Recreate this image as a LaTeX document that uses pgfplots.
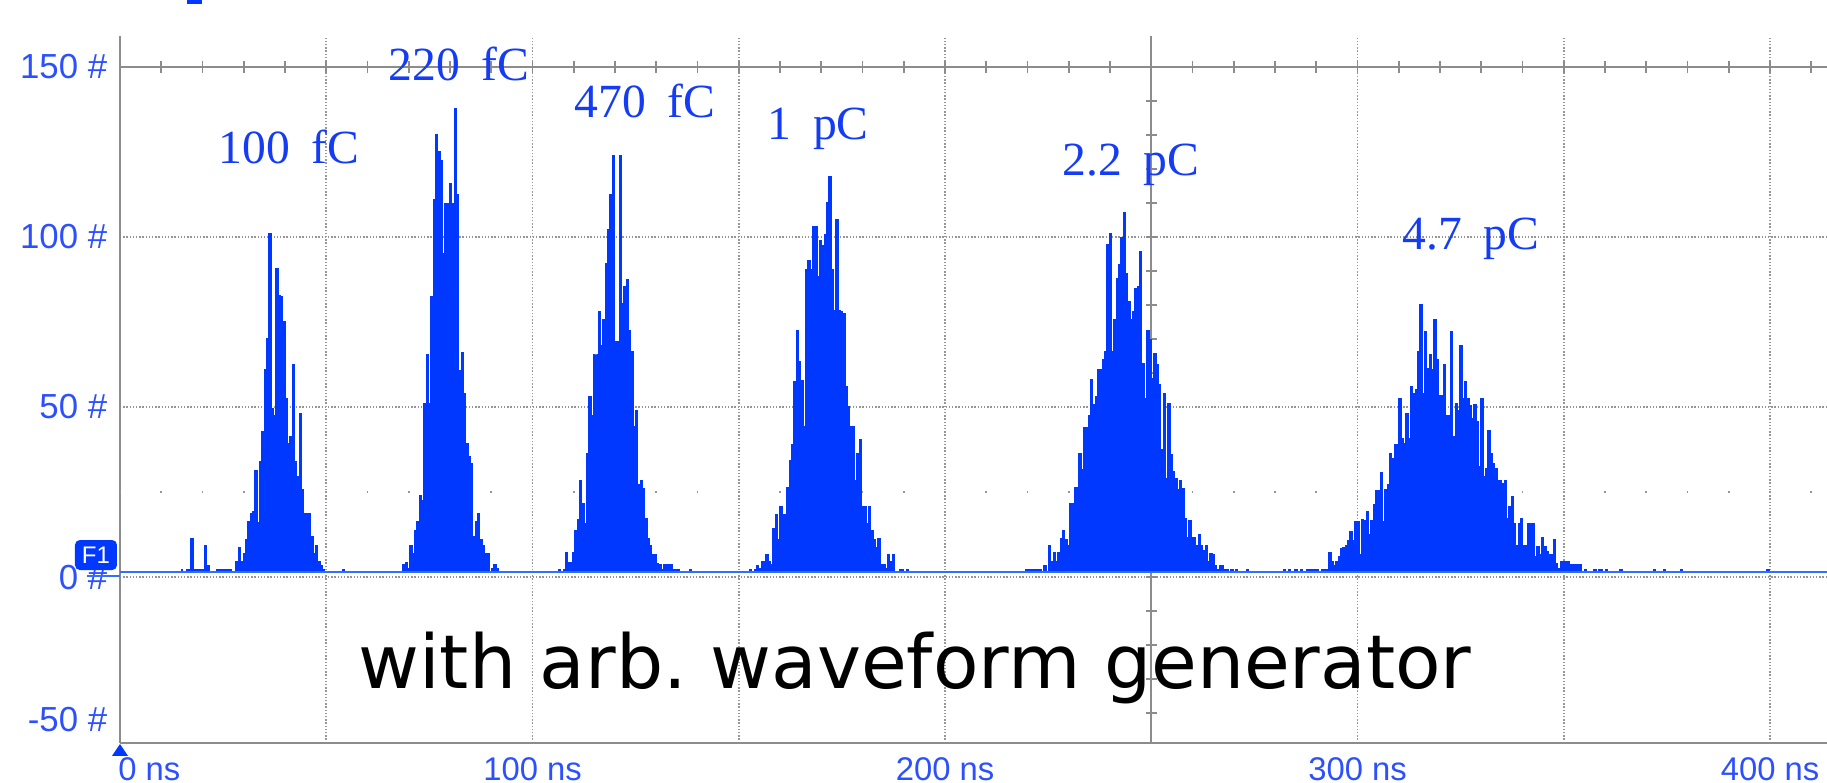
\documentclass[border=0pt]{standalone}
\usepackage{fontspec}
\setmainfont{Liberation Sans}
\newfontfamily\lblfont{Liberation Serif}
\newfontfamily\bigfont{DejaVu Sans}
\usepackage{pgfplots}
\pgfplotsset{compat=1.18}
\definecolor{histblue}{RGB}{0,56,255}
\definecolor{baseblue}{RGB}{50,110,255}
\definecolor{lblblue}{RGB}{20,60,245}
\definecolor{tickblue}{RGB}{45,80,255}
\definecolor{gridgray}{RGB}{150,150,150}
\definecolor{axgray}{RGB}{140,140,140}
\frenchspacing
\begin{document}
\begin{tikzpicture}
\begin{axis}[
  scale only axis, width=426.75pt, height=176.75pt,
  xmin=0, xmax=413.8, ymin=-48.8, ymax=159.1,
  axis x line*=bottom, axis y line*=left,
  axis line style={axgray, line width=0.5pt},
  clip=false,
  xtick={100,200,300,400}, xticklabels={100 ns,200 ns,300 ns,400 ns},
  minor xtick={50,150,350},
  extra x ticks={0}, extra x tick labels={0 ns},
  extra x tick style={grid=none, xticklabel style={anchor=north west, xshift=-0.6pt}},
  ytick={0,50,100,150}, yticklabels={0 \#,50 \#,100 \#,150 \#},
  extra y ticks={-42}, extra y tick labels={-50 \#},
  extra y tick style={grid=none},
  major tick length=0pt, minor tick length=0pt,
  grid=both,
  major grid style={gridgray, line width=0.4pt, dash pattern=on 0.35pt off 0.45pt},
  minor grid style={gridgray, line width=0.4pt, dash pattern=on 0.35pt off 0.45pt},
  xticklabel style={font=\fontsize{8.2}{9}\selectfont, text=tickblue, anchor=north, inner sep=0pt, yshift=-3.5pt},
  yticklabel style={font=\fontsize{8.7}{10}\selectfont, text=tickblue, anchor=east, inner sep=0pt, xshift=-3pt},
  hist/.style={draw=histblue, line width=0.25pt, fill=histblue, const plot, mark=none},
]
\coordinate (ll) at (rel axis cs:0,0);
\coordinate (ur) at (rel axis cs:1,1);
% sparse dot row at 25
\draw[gridgray, line width=0.45pt, dash pattern=on 0.45pt off 9.8629pt, dash phase=0.225pt] (axis cs:0,25) -- (axis cs:413.8,25);
% centre lines with ticks
\draw[axgray, line width=0.5pt] (axis cs:0,150) -- (axis cs:413.8,150);
\draw[axgray, line width=2.8pt, dash pattern=on 0.45pt off 9.8629pt, dash phase=0.225pt] (axis cs:0,150) -- (axis cs:413.8,150);
\draw[axgray, line width=0.5pt] (axis cs:250,-48.8) -- (axis cs:250,159.1);
\draw[axgray, line width=2.6pt, dash pattern=on 0.45pt off 8.05pt, dash phase=0.225pt] (axis cs:250,0) -- (axis cs:250,159.1);
\draw[axgray, line width=2.6pt, dash pattern=on 0.45pt off 8.05pt, dash phase=0.225pt] (axis cs:250,0) -- (axis cs:250,-48.8);

% 100 fC
\addplot[hist] table[header=false, row sep=\\, x expr={27.55+\coordindex*0.567}, y index=0] {
1.5\\4.5\\8.6\\4.5\\7\\10.9\\16.3\\18.7\\19.2\\31.3\\16\\33.9\\42.7\\60.9\\70.2\\100.9\\49.6\\47.6\\90.8\\82.9\\82.4\\75.1\\52.5\\39.3\\41.3\\62.4\\33.9\\29.5\\48.1\\25.6\\18.7\\18.7\\18.7\\11.9\\7\\9.4\\4.5\\3.5\\2.3\\1.5\\
};
% 220 fC
\addplot[hist] table[header=false, row sep=\\, x expr={67.96+\coordindex*0.567}, y index=0] {
1.5\\3.8\\4.4\\2.5\\9.4\\6.8\\13.6\\16.3\\24.1\\22.6\\51.1\\65.3\\50.9\\82.5\\110.9\\130\\125.1\\122.6\\95.2\\109.9\\109.7\\115.8\\109.9\\137.8\\112.4\\60.7\\66.1\\54\\39.3\\35.4\\33.4\\11.9\\16.3\\18.7\\10.9\\9.4\\7\\7\\1.5\\2.5\\3.8\\2.5\\1.5\\
};
% 470 fC
\addplot[hist] table[header=false, row sep=\\, x expr={105.69+\coordindex*0.567}, y index=0] {
1.5\\2.1\\1.5\\2.1\\7.2\\4.2\\4.2\\7.1\\13.6\\17\\28.3\\21.5\\15.8\\36.4\\53.2\\47.6\\65.3\\65.3\\78\\68.2\\75.6\\92.3\\102.3\\112.4\\124.1\\69.2\\69.2\\124.1\\80.3\\85.4\\87.4\\72.5\\66.3\\44.4\\48.9\\27.1\\28.3\\26.1\\17.3\\11.4\\9.4\\6.5\\6.5\\4\\3.6\\2.3\\3.6\\3.6\\3.6\\3.6\\2.3\\2.3\\2.3\\1.5\\1.5\\1.5\\1.5\\2.3\\1.5\\
};
% 1 pC
\addplot[hist] table[header=false, row sep=\\, x expr={151.99+\coordindex*0.567}, y index=0] {
1.5\\2.3\\1.5\\2.3\\3.5\\2.5\\4.5\\4.5\\6.5\\4.5\\3.8\\14.3\\18.5\\11.1\\20.7\\18.5\\18.5\\26.4\\34.2\\39.1\\57.5\\72.6\\63.3\\57.9\\44.2\\90.3\\93.2\\90.3\\103\\103\\88.3\\99.1\\97.6\\100.6\\110.1\\117.9\\90.5\\78.5\\105\\78.5\\78\\77.6\\56\\50.1\\44.2\\44.2\\28.5\\36.4\\40.5\\20.7\\20.7\\15.8\\20.7\\13.8\\10.9\\8.7\\11.4\\3.8\\3.8\\2.5\\6.5\\4.5\\6.5\\1.5\\1.5\\2.3\\2.3\\1.5\\2.3\\1.5\\
};
% 2.2 pC
\addplot[hist] table[header=false, row sep=\\, x expr={218.82+\coordindex*0.567}, y index=0] {
1.5\\2.3\\2.3\\2.3\\2.3\\2.3\\2.3\\2.3\\1.5\\3.5\\1.5\\9.4\\4.5\\7.1\\4.5\\7.1\\11.4\\13.8\\10.9\\9.4\\21.5\\21.5\\26.4\\26.4\\36.2\\31.5\\44\\44\\47.6\\58.1\\50.6\\53\\61.1\\61.1\\64\\66.3\\97.9\\100.9\\66.3\\75.8\\87.8\\91.8\\99.9\\107.2\\89.3\\81\\75.8\\78\\84.9\\85.3\\95.7\\62.9\\52.6\\72.6\\69.9\\58.4\\65.8\\62.4\\56.5\\37.4\\54\\29\\51.1\\35.9\\31\\29\\25.6\\28.5\\26.1\\17.3\\11.7\\16.6\\11.7\\11.7\\9.4\\12.4\\9.4\\7.9\\9.4\\4.5\\6.8\\6.5\\3.5\\2.3\\3.5\\3.5\\2.3\\2.3\\1.5\\2.3\\1.5\\2.3\\1.5\\
};
% 4.7 pC
\addplot[hist] table[header=false, row sep=\\, x expr={290.73+\coordindex*0.567}, y index=0] {
1.5\\2.3\\2.3\\2.3\\7.1\\4.5\\3.5\\4.5\\6\\8.4\\8.7\\9.4\\10.7\\13.3\\10.7\\16.3\\16.3\\6.5\\17\\16.6\\19.2\\12.4\\16.6\\21.2\\25.4\\25.4\\30.7\\16.3\\25.8\\27.1\\36.2\\34.9\\39.1\\39.1\\52.6\\40.8\\39.2\\48.1\\40.8\\56\\54\\55.2\\66.3\\80\\54\\72.2\\61.4\\65.3\\61.1\\75.8\\64\\53.5\\53.5\\62.4\\47.6\\47.6\\72.2\\41.3\\51.1\\49.1\\68.2\\52.6\\57.5\\52.6\\50.3\\46.7\\50.6\\45.7\\32.5\\52.6\\29.5\\32\\43.2\\36.4\\33.4\\32\\28.5\\28.5\\27.4\\28.5\\17.3\\20.7\\23.6\\15.8\\9.4\\15.8\\17.3\\9.4\\9.4\\15.8\\15.8\\15.8\\6\\8.9\\6.5\\11.7\\8.9\\7.4\\6.5\\6.7\\10.9\\4\\2.6\\4.5\\4.5\\4.5\\4.5\\3.8\\3.8\\3.8\\3.8\\3.8\\1.5\\
};
% isolated counts between the peaks
\addplot[hist] coordinates {
(14.79,1.5)(14.79,2.35)(15.2,1.5)(16.17,2.35)(17.14,11.4)(17.7,2.35)(20.53,9.4)(21.07,3.5)(21.65,1.5)(23.44,2.35)(27.08,1.5)
(54.0,1.5)(54.0,2.3)(54.5,1.5)
(273.0,1.5)(273.0,2.3)(273.6,1.5)(282.0,2.3)(282.6,1.5)(283.2,2.3)(283.8,1.5)(284.8,2.3)(285.4,1.5)(286.1,2.3)(286.7,1.5)(287.7,2.3)(290.5,1.5)
(354.9,2.3)(355.5,1.5)(357.3,2.3)(357.9,1.5)(358.4,2.3)(359.4,1.5)(360.0,2.3)(360.6,1.5)(363.6,2.3)(364.2,1.5)(371.7,2.3)(372.3,1.5)(374.1,2.3)(374.7,1.5)(378.2,2.3)(378.8,1.5)(399.2,2.3)(399.8,1.5)
};
% trace baseline
\draw[baseblue, line width=0.55pt] (axis cs:0,1.5) -- (axis cs:413.8,1.5);

% charge labels
\tikzset{chg/.style={anchor=base west, inner sep=0pt, text=lblblue, font=\lblfont\fontsize{11.9}{14}\selectfont}}
\node[chg] at (axis cs:23.76,121.7) {100\hspace{0.45em}fC};
\node[chg] at (axis cs:64.97,145.9) {220\hspace{0.45em}fC};
\node[chg] at (axis cs:110.1,135.1) {470\hspace{0.45em}fC};
\node[chg] at (axis cs:156.85,128.6) {1\hspace{0.45em}pC};
\node[chg] at (axis cs:228.3,118.2) {2.2\hspace{0.45em}pC};
\node[chg] at (axis cs:310.7,96.2) {4.7\hspace{0.45em}pC};

\node[anchor=base west, inner sep=0pt, font=\bigfont\fontsize{18.6}{22}\selectfont] at (axis cs:57.6,-32.7) {with arb.\ waveform generator};

% F1 marker, trace reference line, trigger marker
\draw[baseblue, line width=0.5pt] (axis cs:-8,0.3) -- (axis cs:0,0.3);
\node[fill=histblue, rounded corners=1.2pt, text=white, font=\fontsize{6}{7}\selectfont, minimum width=10.5pt, minimum height=7.5pt, inner sep=0pt] at (axis cs:-5.82,6.47) {F1};
\fill[histblue] (axis cs:0,-49.1) -- (axis cs:1.94,-52.6) -- (axis cs:-1.94,-52.6) -- cycle;
\fill[histblue] (axis cs:16.24,168.6) rectangle (axis cs:19.88,170);
\end{axis}
\pgfresetboundingbox
\path[use as bounding box] ([xshift=-30pt,yshift=-9.75pt]ll) rectangle ([yshift=9pt]ur);
\end{tikzpicture}
\end{document}
